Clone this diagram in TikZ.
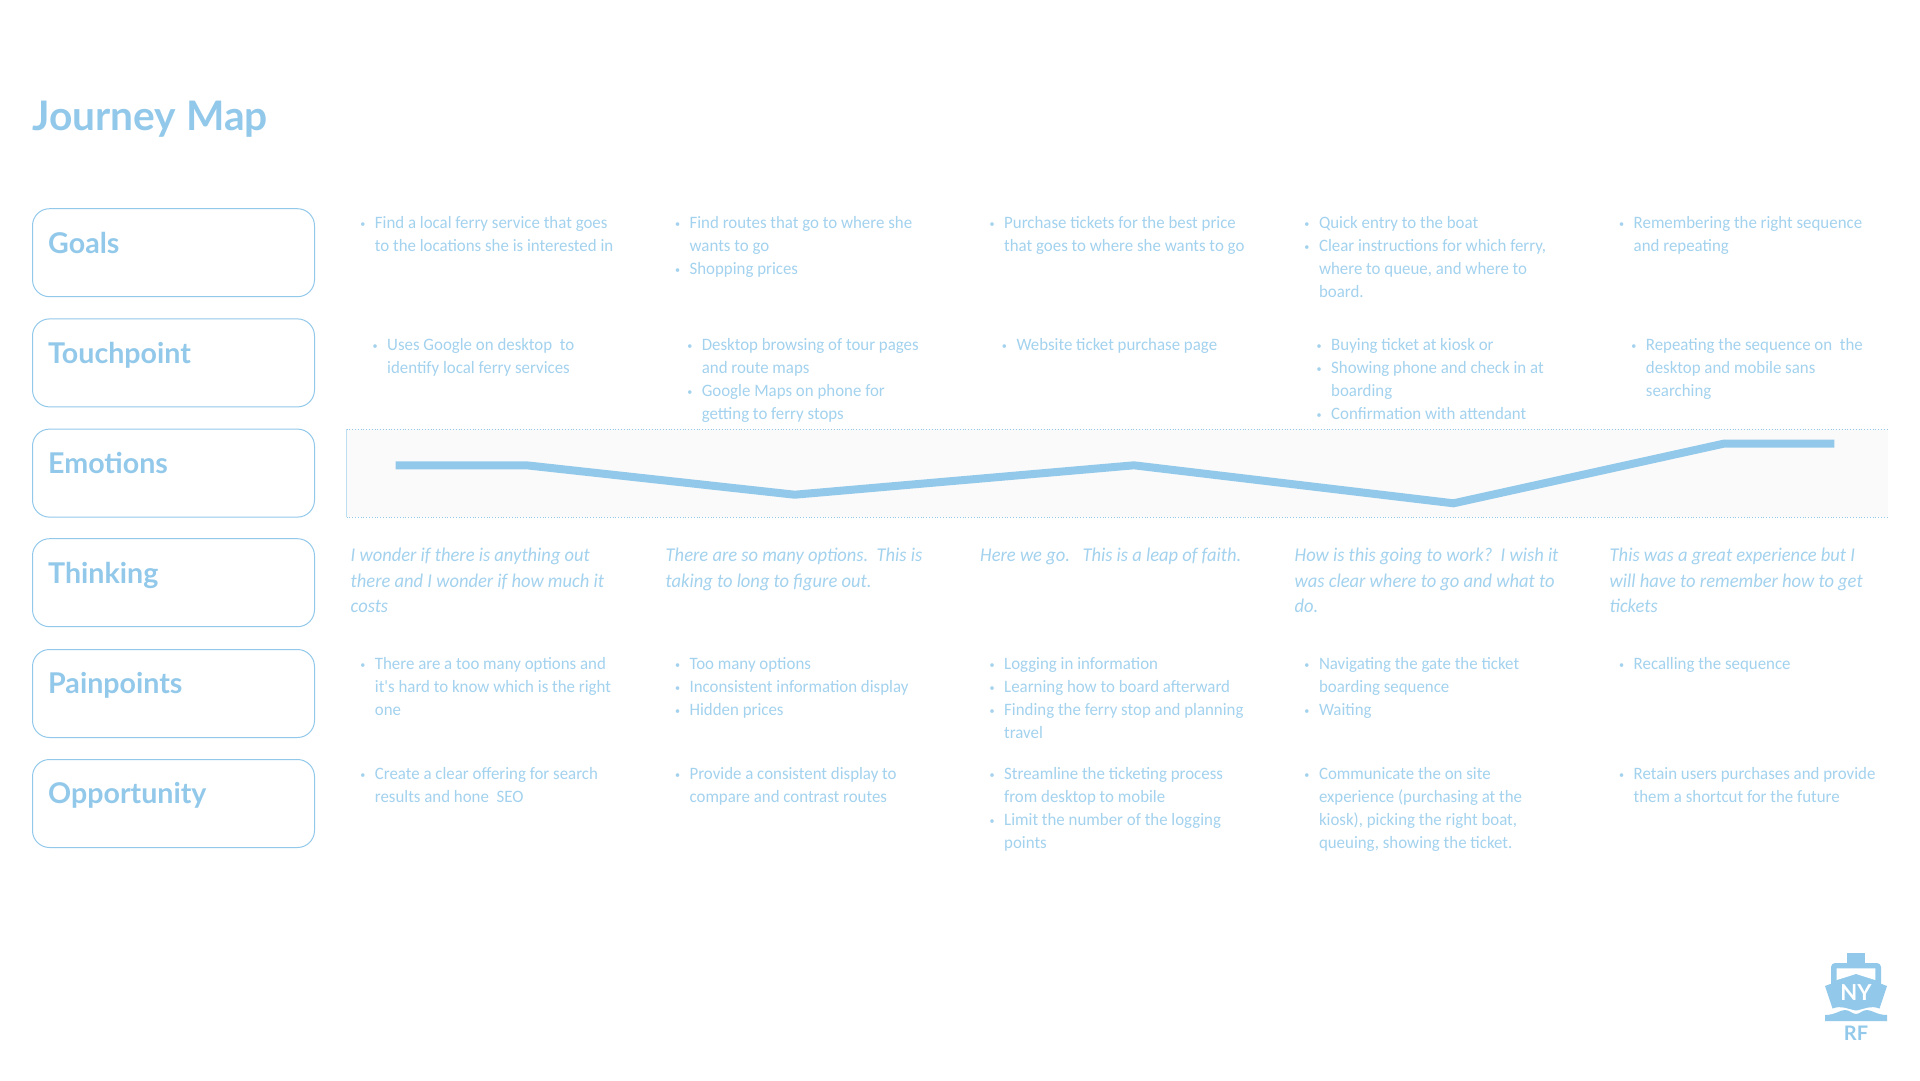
\documentclass[tikz,border=0pt]{standalone}
\usepackage{fontspec}
\setmainfont{Lato}
\newfontfamily\bodyf[FakeStretch=0.97]{Carlito}
\newfontfamily\thinkf[FakeStretch=0.95]{Carlito}
\definecolor{jb}{HTML}{92C9EA}
\definecolor{jt}{HTML}{A3D2EE}
\newcommand{\bl}{\llap{\raisebox{1.5pt}{\scalebox{0.6}{\textbullet}}\hspace{9.5pt}}}
\tikzset{
 lab/.style={draw=jb,line width=1pt,rounded corners=17pt,minimum width=282pt,minimum height=88pt,anchor=north west,inner sep=0pt},
 labt/.style={anchor=base west,inner sep=0pt,text=jb,font=\fontsize{28.6}{30}\selectfont\bfseries},
 cell/.style={anchor=north west,inner sep=0pt,text=jt,align=left,font=\bodyf\fontsize{17.4}{22.9}\selectfont},
 think/.style={anchor=north west,inner sep=0pt,text=jt,align=left,font=\thinkf\itshape\fontsize{19.5}{25.7}\selectfont},
}
\begin{document}
\begin{tikzpicture}[x=1pt,y=-1pt]
\useasboundingbox (0,0) rectangle (1920,1080);
\fill[white] (0,0) rectangle (1920,1080);
\node[anchor=base west,inner sep=0pt,text=jb,font=\fontsize{40.7}{44}\selectfont\bfseries] (title) at (32,130) {Journey Map};
\foreach \n/\t/\y in {a/Goals/208.2,b/Touchpoint/318.4,c/Emotions/428.6,d/Thinking/538.2,e/Painpoints/649,f/Opportunity/759}{
  \node[lab] (box\n) at (32,\y) {};
  \node[labt] (lab\n) at (48,\y+44.8) {\t};
}
% panel
\fill[black!2] (346.5,429) rectangle (1888,517);
\draw[jb!60,line width=.7pt] (346.5,429) -- (346.5,517);
\draw[jb,line width=.8pt,dotted] (346.5,429) -- (1888,429);
\draw[jb,line width=.8pt,dotted] (346.5,517) -- (1888,517);
\draw[jb,line width=8pt,line join=miter] (395.5,465.3) -- (526.5,465.3) -- (794.7,494.7) -- (1133.9,465.3) -- (1453.5,503.3) -- (1724,443.6) -- (1834.3,443.6);
% goals
\def\ya{216.7}
\node[cell] (g1) at (374.7,\ya) {\bl Find a local ferry service that goes\\to the locations she is interested in};
\node[cell] (g2) at (689.4,\ya) {\bl Find routes that go to where she\\wants to go\\\bl Shopping prices};
\node[cell] (g3) at (1004,\ya) {\bl Purchase tickets for the best price\\that goes to where she wants to go};
\node[cell] (g4) at (1318.8,\ya) {\bl Quick entry to the boat\\\bl Clear instructions for which ferry,\\where to queue, and where to\\board.};
\node[cell] (g5) at (1633.5,\ya) {\bl Remembering the right sequence\\and repeating};
% touch
\def\yb{338.6}
\node[cell] (t1) at (387,\yb) {\bl Uses Google on desktop\ \ to\\identify local ferry services};
\node[cell] (t2) at (701.6,\yb) {\bl Desktop browsing of tour pages\\and route maps\\\bl Google Maps on phone for\\getting to ferry stops};
\node[cell] (t3) at (1016.3,\yb) {\bl Website ticket purchase page};
\node[cell] (t4) at (1331,\yb) {\bl Buying ticket at kiosk or\\\bl Showing phone and check in at\\boarding\\\bl Confirmation with attendant};
\node[cell] (t5) at (1645.7,\yb) {\bl Repeating the sequence on\ \ the\\desktop and mobile sans\\searching};
% thinking
\def\yc{547.7}
\node[think] (h1) at (350.5,\yc) {I wonder if there is anything out\\there and I wonder if how much it\\costs};
\node[think] (h2) at (665.5,\yc) {There are so many options.\ \ This is\\taking to long to figure out.};
\node[think] (h3) at (980,\yc) {Here we go.\ \ \ This is a leap of faith.};
\node[think] (h4) at (1294.5,\yc) {How is this going to work?\ \ I wish it\\was clear where to go and what to\\do.};
\node[think] (h5) at (1609.5,\yc) {This was a great experience but I\\will have to remember how to get\\tickets};
% pain
\def\yd{657.7}
\node[cell] (p1) at (374.7,\yd) {\bl There are a too many options and\\it's hard to know which is the right\\one};
\node[cell] (p2) at (689.4,\yd) {\bl Too many options\\\bl Inconsistent information display\\\bl Hidden prices};
\node[cell] (p3) at (1004,\yd) {\bl Logging in information\\\bl Learning how to board afterward\\\bl Finding the ferry stop and planning\\travel};
\node[cell] (p4) at (1318.8,\yd) {\bl Navigating the gate the ticket\\boarding sequence\\\bl Waiting};
\node[cell] (p5) at (1633.5,\yd) {\bl Recalling the sequence};
% opp
\def\ye{767.7}
\node[cell] (o1) at (374.7,\ye) {\bl Create a clear offering for search\\results and hone\ \ SEO};
\node[cell] (o2) at (689.4,\ye) {\bl Provide a consistent display to\\compare and contrast routes};
\node[cell] (o3) at (1004,\ye) {\bl Streamline the ticketing process\\from desktop to mobile\\\bl Limit the number of the logging\\points};
\node[cell] (o4) at (1318.8,\ye) {\bl Communicate the on site\\experience (purchasing at the\\kiosk), picking the right boat,\\queuing, showing the ticket.};
\node[cell] (o5) at (1633.5,\ye) {\bl Retain users purchases and provide\\them a shortcut for the future};
% logo
\fill[jb] (1846.7,952.7) rectangle (1865,964);
\fill[jb,rounded corners=4pt] (1831,963) rectangle (1881,990);
\fill[white] (1836.7,968.3) -- (1875.3,968.3) -- (1875.3,980) -- (1856,974) -- (1836.7,980) -- cycle;
\fill[jb] (1825,986) -- (1856,974.3) -- (1887,986) -- (1879.5,1008.5) .. controls (1870,1005) and (1865,1009) .. (1856,1010.5) .. controls (1847,1009) and (1842,1005) .. (1832.5,1008.5) -- cycle;
\fill[jb] (1825,1015) .. controls (1835,1015) and (1840,1010) .. (1845,1010) .. controls (1850,1010) and (1852,1014) .. (1856,1014) .. controls (1860,1014) and (1862,1010) .. (1867,1010) .. controls (1872,1010) and (1877,1015) .. (1887,1015) -- (1887,1021) -- (1825,1021) -- cycle;
\node[inner sep=0pt,text=white,font=\fontsize{22}{22}\selectfont\bfseries] (ny) at (1856,993) {NY};
\node[inner sep=0pt,text=jb,font=\fontsize{20}{20}\selectfont\bfseries] (rf) at (1856,1033.3) {RF};
\end{tikzpicture}
\end{document}
